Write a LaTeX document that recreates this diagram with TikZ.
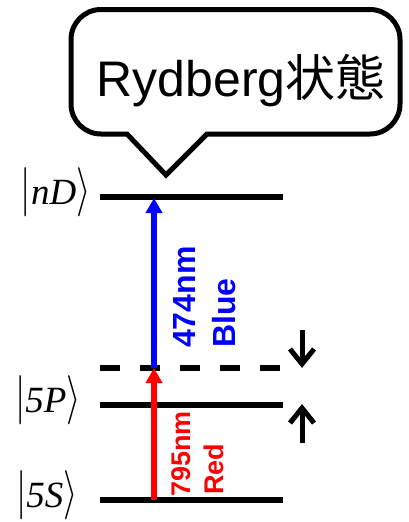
\RequirePackage{fix-cm}
\documentclass[tikz,border=0pt]{standalone}
\usepackage{amsmath}
\usepackage{graphicx}
\usepackage{fontspec}
\setmainfont{Liberation Sans}
\newfontfamily\serif{Liberation Serif}
\newfontfamily\cjk{Noto Sans CJK JP}
\usetikzlibrary{arrows.meta}

\newcommand{\ketlabel}[1]{\fontsize{37}{43}\selectfont\scalebox{1}[1.33]{$|$}{\serif\itshape #1}\scalebox{1}[1.33]{$\rangle$}}

\begin{document}
\begin{tikzpicture}[x=1pt,y=-1pt,
  lvl/.style={line width=5.5pt},
  beam/.style={line width=5.5pt,-{Triangle[length=15pt,width=16pt]}},
  shiftarrow/.style={line width=5pt,-{Straight Barb[length=15pt,width=24pt]}},
  ketlbl/.style={inner sep=0pt,anchor=base east},
  beamlbl/.style={inner sep=0pt,anchor=base west,rotate=90}]
 \useasboundingbox (0,0) rectangle (408,522);
 \draw[line width=5pt] (127,134) -- (101,134) arc (90:180:30) -- (71,39.5) arc (180:270:30)
   -- (370,9.5) arc (270:360:30) -- (400,104) arc (0:90:30) -- (207,134) -- (166,175) -- cycle;
 \node[anchor=base,inner sep=0pt,font=\fontsize{50}{58}\selectfont] (title) at (241,96) {Rydberg{\cjk 状態}};
 \coordinate (nD0) at (100,197); \coordinate (nD1) at (283,197);
 \coordinate (v0) at (100,368);  \coordinate (v1) at (283,368);
 \coordinate (P0) at (100,405);  \coordinate (P1) at (283,405);
 \coordinate (S0) at (100,500);  \coordinate (S1) at (283,500);
 \draw[lvl] (nD0) -- (nD1);
 \draw[lvl,dash pattern=on 20pt off 20pt] (v0) -- (v1);
 \draw[lvl] (P0) -- (P1);
 \draw[lvl] (S0) -- (S1);
 \node[ketlbl] (nDket) at (91,204) {\ketlabel{nD}};
 \node[ketlbl] (Pket) at (81,412) {\ketlabel{5P}};
 \node[ketlbl] (Sket) at (78,507) {\ketlabel{5S}};
 \coordinate (bS) at (154,500); \coordinate (bv) at (154,368); \coordinate (bD) at (154,198);
 \draw[beam,red] (bS) -- (bv);
 \draw[beam,blue] (bv) -- (bD);
 \node[beamlbl,blue,font=\bfseries\fontsize{32}{38}\selectfont] (bluenm) at (195,348) {474nm};
 \node[beamlbl,blue,font=\bfseries\fontsize{32}{38}\selectfont] (bluename) at (235,348) {Blue};
 \node[beamlbl,red,font=\bfseries\fontsize{27}{32}\selectfont] (rednm) at (190,497) {795nm};
 \node[beamlbl,red,font=\bfseries\fontsize{27}{32}\selectfont] (redname) at (223,495) {Red};
 \coordinate (dn0) at (302,330); \coordinate (dn1) at (302,368);
 \coordinate (up0) at (302,443); \coordinate (up1) at (302,404);
 \draw[shiftarrow] (dn0) -- (dn1);
 \draw[shiftarrow] (up0) -- (up1);
\end{tikzpicture}
\end{document}
